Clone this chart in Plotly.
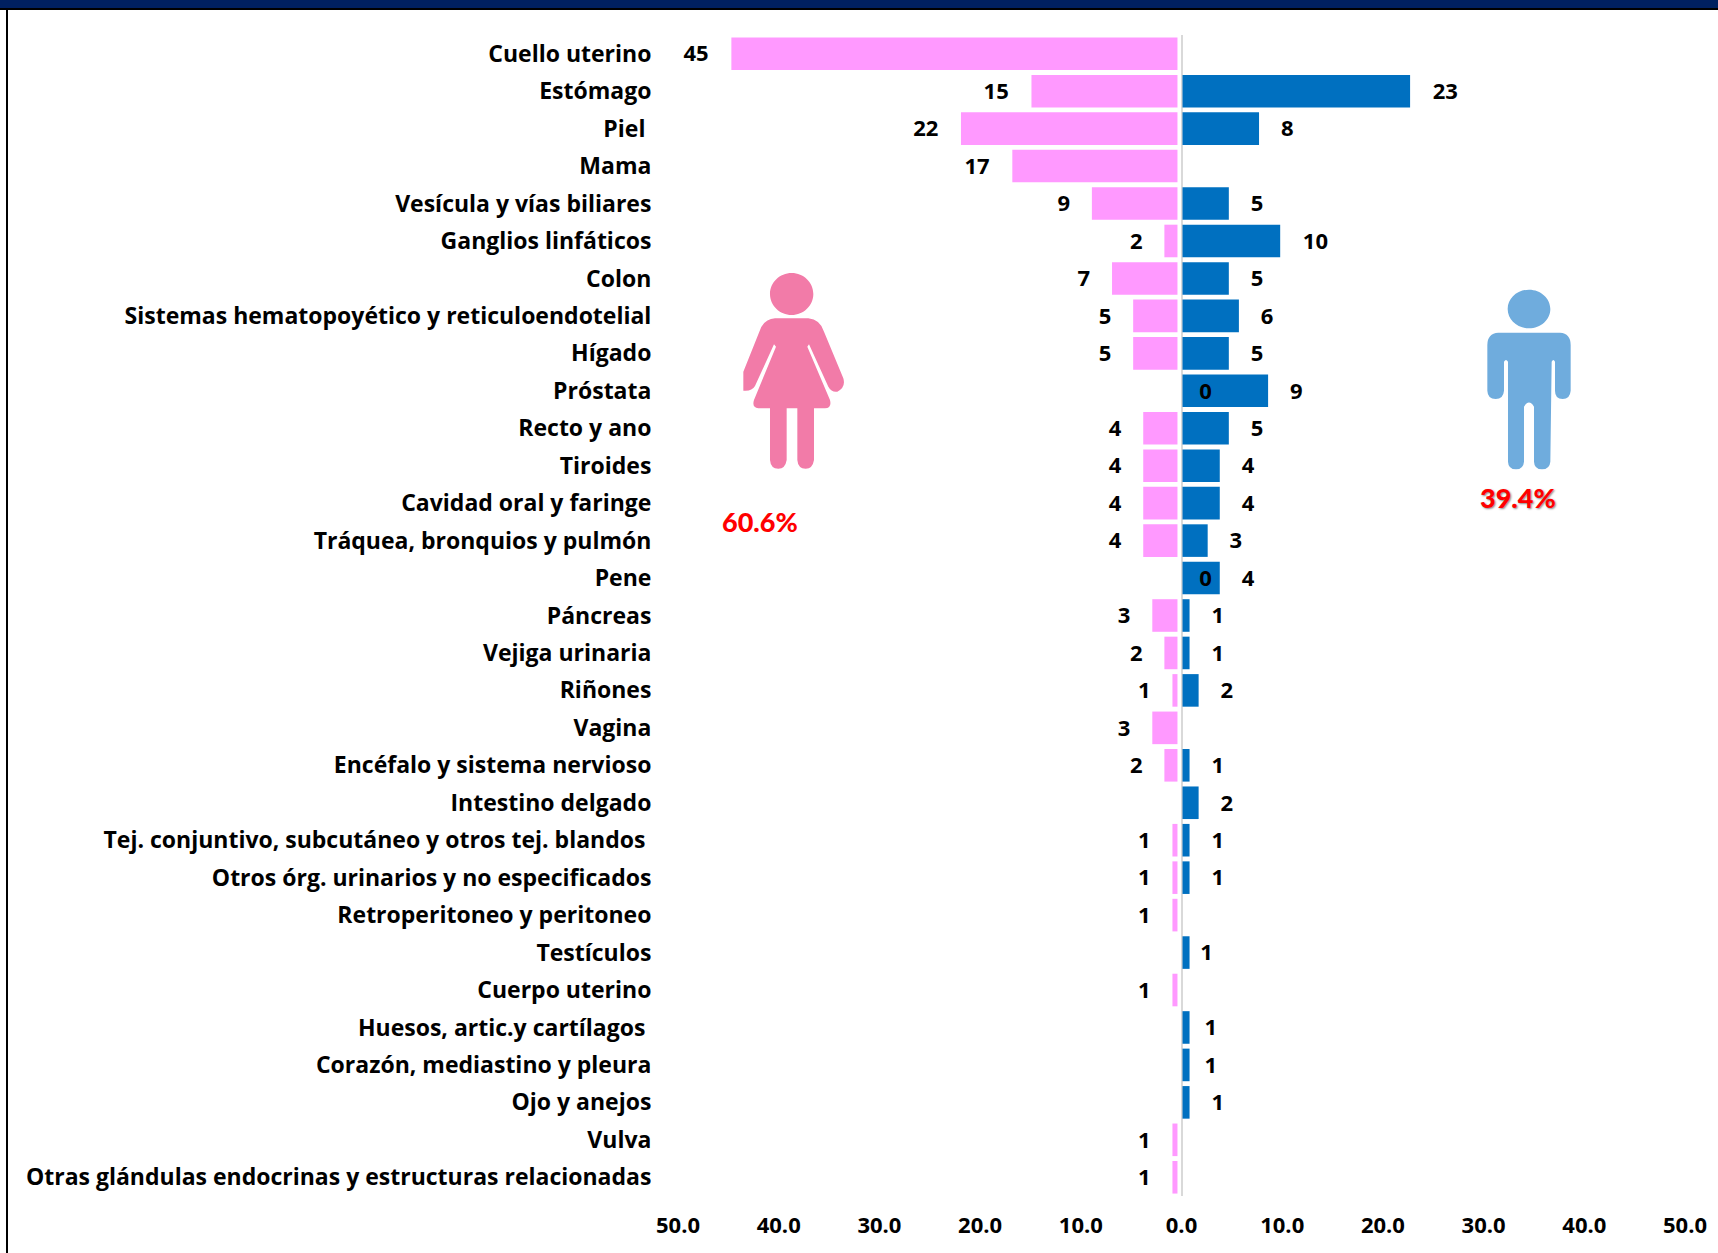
import plotly.graph_objects as go

categories = ["Cuello uterino", "Estómago", "Piel ", "Mama", "Vesícula y vías biliares", "Ganglios linfáticos",
              "Colon", "Sistemas hematopoyético y reticuloendotelial", "Hígado", "Próstata", "Recto y ano", "Tiroides",
              "Cavidad oral y faringe", "Tráquea, bronquios y pulmón", "Pene", "Páncreas", "Vejiga urinaria", "Riñones",
              "Vagina", "Encéfalo y sistema nervioso", "Intestino delgado",
              "Tej. conjuntivo, subcutáneo y otros tej. blandos ", "Otros órg. urinarios y no especificados",
              "Retroperitoneo y peritoneo", "Testículos", "Cuerpo uterino", "Huesos, artic.y cartílagos ",
              "Corazón, mediastino y pleura", "Ojo y anejos", "Vulva",
              "Otras glándulas endocrinas y estructuras relacionadas"]
female_values = [44.3, 14.5, 21.5, 16.4, 8.5, 1.3, 6.5, 4.4, 4.4, None, 3.4, 3.4, 3.4, 3.4, None, 2.5, 1.3, 0.5,
                 2.5, 1.3, None, 0.5, 0.5, 0.5, None, 0.5, None, None, None, 0.5, 0.5]
male_values = [None, 22.6, 7.6, None, 4.6, 9.7, 4.6, 5.6, 4.6, 8.5, 4.6, 3.7, 3.7, 2.5, 3.7, 0.7, 0.7, 1.6,
               None, 0.7, 1.6, 0.7, 0.7, None, 0.7, None, 0.7, 0.7, 0.7, None, None]
female_labels = ["45", "15", "22", "17", "9", "2", "7", "5", "5", "0", "4", "4", "4", "4", "0", "3", "2", "1",
                 "3", "2", None, "1", "1", "1", None, "1", None, None, None, "1", "1"]
male_labels = [None, "23", "8", None, "5", "10", "5", "6", "5", "9", "5", "4", "4", "3", "4", "1", "1", "2",
               None, "1", "2", "1", "1", None, "1", None, "1", "1", "1", None, None]
axis_ticks = [-50, -40, -30, -20, -10, 0, 10, 20, 30, 40, 50]
axis_labels = ["50.0", "40.0", "30.0", "20.0", "10.0", "0.0", "10.0", "20.0", "30.0", "40.0", "50.0"]

W, H = 1718, 1253
L, R, T, B = 678, 1685, 35, 1196
FONT = "Open Sans"
PINK, BLUE = "#FF99FF", "#0070C0"
F_BASE, M_BASE = 0.4, 0.1
LABEL_DROP = 0.06
near_labels = {"Testículos": 1.7, "Huesos, artic.y cartílagos ": 2.1, "Corazón, mediastino y pleura": 2.1}


def offset(text):
    return 3.5 if len(text) > 1 else 2.8


fx, ft, fy = [], [], []
for i, (v, t) in enumerate(zip(female_values, female_labels)):
    if t is None:
        continue
    fy.append(i + LABEL_DROP)
    ft.append(t)
    fx.append(2.4 if v is None else -(F_BASE + v + offset(t)))
mx, mt, my = [], [], []
for i, (c, v, t) in enumerate(zip(categories, male_values, male_labels)):
    if t is None:
        continue
    my.append(i + LABEL_DROP)
    mt.append(t)
    mx.append(M_BASE + v + near_labels.get(c, offset(t)))

label_font = dict(family=FONT, size=23, color="#000000", weight=700)
value_font = dict(family=FONT, size=22, color="#000000", weight=700)
fig = go.Figure()
fig.add_bar(y=categories, x=[None if v is None else -v for v in female_values], base=-F_BASE, orientation="h",
            marker=dict(color=PINK, line_width=0), name="Mujeres")
fig.add_bar(y=categories, x=male_values, base=M_BASE, orientation="h",
            marker=dict(color=BLUE, line_width=0), name="Hombres")
fig.add_scatter(x=fx, y=fy, yaxis="y2", text=ft, mode="text", textposition="middle center", textfont=value_font)
fig.add_scatter(x=mx, y=my, yaxis="y2", text=mt, mode="text", textposition="middle center", textfont=value_font)


def px(x):
    return (x - L) / (R - L)


def py(y):
    return 1 - (y - T) / (B - T)


def path(points):
    out = []
    for p in points:
        cmd, coords = p[0], p[1:]
        vals = []
        for i in range(0, len(coords), 2):
            vals += [f"{px(coords[i]):.5f}", f"{py(coords[i + 1]):.5f}"]
        out.append(cmd + " " + " ".join(vals) if vals else cmd)
    return " ".join(out)


def zoomed(points, ox, oy):
    res = []
    for p in points:
        c = list(p[1:])
        res.append((p[0], *[c[i] / 3 + (ox if i % 2 == 0 else oy) for i in range(len(c))]))
    return res


def ellipse(cx, cy, rx, ry):
    k = 0.5523
    return [("M", cx - rx, cy), ("C", cx - rx, cy - k * ry, cx - k * rx, cy - ry, cx, cy - ry),
            ("C", cx + k * rx, cy - ry, cx + rx, cy - k * ry, cx + rx, cy),
            ("C", cx + rx, cy + k * ry, cx + k * rx, cy + ry, cx, cy + ry),
            ("C", cx - k * rx, cy + ry, cx - rx, cy + k * ry, cx - rx, cy), ("Z",)]


woman = ellipse(275, 132, 65, 63) + [
    ("M", 225, 205), ("L", 325, 205), ("Q", 360, 208, 372, 245), ("L", 430, 385), ("Q", 438, 412, 412, 425),
    ("Q", 395, 428, 385, 410), ("L", 327, 283), ("L", 322, 290), ("L", 390, 450), ("Q", 396, 475, 375, 475),
    ("L", 342, 475), ("L", 342, 630), ("Q", 338, 656, 317, 656), ("Q", 294, 656, 292, 630), ("L", 292, 475),
    ("L", 260, 475), ("L", 260, 630), ("Q", 256, 656, 235, 656), ("Q", 212, 656, 210, 630), ("L", 210, 475),
    ("L", 175, 475), ("Q", 155, 473, 162, 450), ("L", 228, 290), ("L", 222, 283), ("L", 165, 408),
    ("Q", 155, 425, 130, 422), ("L", 130, 365), ("L", 178, 245), ("Q", 190, 208, 225, 205), ("Z",)]
man = ellipse(267, 117, 64, 58) + [
    ("M", 175, 188), ("L", 360, 188), ("Q", 392, 190, 392, 225), ("L", 392, 362), ("Q", 390, 387, 368, 387),
    ("Q", 345, 387, 345, 362), ("L", 345, 275), ("Q", 340, 265, 335, 275), ("L", 331, 575), ("Q", 329, 598, 306, 598),
    ("Q", 283, 598, 282, 575), ("L", 282, 410), ("Q", 267, 385, 252, 410), ("L", 252, 575), ("Q", 250, 598, 228, 598),
    ("Q", 205, 598, 204, 575), ("L", 204, 275), ("Q", 198, 265, 192, 275), ("L", 192, 362), ("Q", 190, 387, 167, 387),
    ("Q", 143, 387, 142, 362), ("L", 142, 225), ("Q", 142, 190, 175, 188), ("Z",)]


def rect(x0, y0, x1, y1, color):
    return dict(type="rect", xref="paper", yref="paper", x0=px(x0), x1=px(x1), y0=py(y0), y1=py(y1),
                fillcolor=color, line_width=0, layer="above")


shapes = [
    rect(0, 0, W, 8, "#002060"),
    rect(0, 8, W, 10, "#000000"),
    rect(6, 8, 8, H, "#000000"),
    dict(type="path", xref="paper", yref="paper", path=path(zoomed(woman, 700, 250)), fillcolor="#F27BA8", line_width=0),
    dict(type="path", xref="paper", yref="paper", path=path(zoomed(man, 1440, 270)), fillcolor="#6FACDD", line_width=0),
]

pct = dict(family="Lato", size=27, color="#FF0000", weight=900)
annotations = [
    dict(text="60.6%", xref="paper", yref="paper", x=px(760), y=py(521), showarrow=False, font=pct,
         xanchor="center", yanchor="middle"),
    dict(text="39.4%", xref="paper", yref="paper", x=px(1518), y=py(497), showarrow=False,
         font={**pct, "shadow": "1px 1px 2px #888888"}, xanchor="center", yanchor="middle"),
]

fig.update_layout(
    width=W, height=H, autosize=False, showlegend=False, barmode="overlay", bargap=0.13,
    margin=dict(l=L, r=W - R, t=T, b=H - B, pad=0),
    paper_bgcolor="#FFFFFF", plot_bgcolor="#FFFFFF", shapes=shapes, annotations=annotations,
    xaxis=dict(range=[-50, 50], tickvals=axis_ticks, ticktext=axis_labels, showgrid=False, showline=False,
               zeroline=True, zerolinecolor="#D9D9D9", zerolinewidth=2, ticks="outside", ticklen=10,
               tickcolor="rgba(0,0,0,0)", tickfont=value_font),
    yaxis=dict(categoryorder="array", categoryarray=categories, autorange=False, range=[30.5, -0.5],
               type="category", tickmode="array", tickvals=categories, ticktext=categories, showgrid=False,
               showline=False, zeroline=False, ticks="outside", ticklen=21, tickcolor="rgba(0,0,0,0)",
               tickfont=label_font),
    yaxis2=dict(overlaying="y", range=[30.5, -0.5], visible=False, autorange=False),
)

fig.write_html("out.html",
               post_script="document.body.style.margin='0';document.body.style.overflow='hidden';"
                           "document.documentElement.style.overflow='hidden';",
               config={"displayModeBar": False})
